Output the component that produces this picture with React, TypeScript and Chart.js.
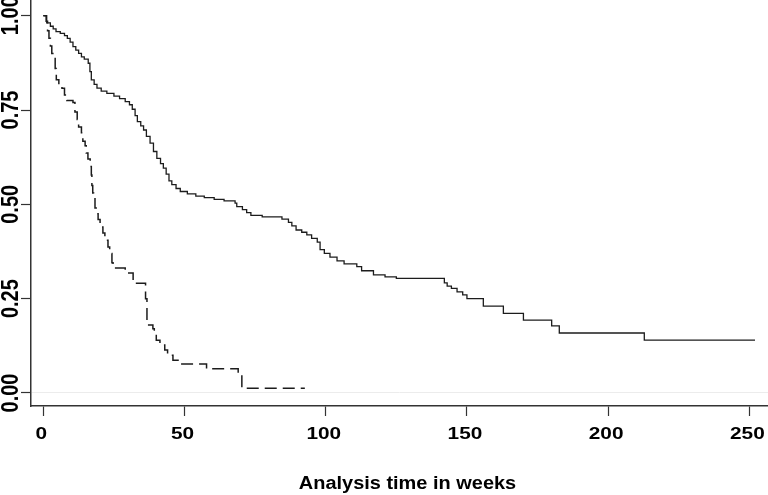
import React, { useEffect, useRef } from "react";
import { Chart, registerables } from "chart.js";

Chart.register(...registerables);

// Group 1 (solid line): event times (weeks) and survival after each event
const solidTimes = [0, 1.2, 2.5, 3.5, 4.5, 6.0, 7.5, 8.5, 9.5, 10.5, 11.5, 12.5, 13.5, 14.5, 15.9, 16.5, 17.0, 18.0, 19.0, 20.5, 22.5, 25.0, 27.0, 29.0, 30.5, 31.5, 32.5, 33.3, 34.5, 35.5, 36.5, 37.8, 39.0, 40.2, 41.5, 42.5, 43.5, 44.5, 45.5, 47.0, 48.5, 51.0, 54.0, 57.0, 60.5, 64.0, 67.9, 68.5, 70.5, 72.0, 73.5, 77.5, 84.5, 86.8, 88.0, 89.5, 91.5, 93.3, 95.0, 97.0, 98.0, 99.5, 101.5, 104.0, 106.5, 111.0, 112.7, 116.9, 121.0, 125.0, 142.0, 143.0, 144.5, 146.5, 148.5, 150.0, 155.8, 162.9, 170.0, 180.0, 182.7, 212.8, 252.0];
const solidSurv = [1.0, 0.981, 0.972, 0.965, 0.958, 0.953, 0.947, 0.94, 0.93, 0.918, 0.909, 0.9, 0.891, 0.885, 0.874, 0.852, 0.83, 0.818, 0.808, 0.8, 0.794, 0.787, 0.78, 0.772, 0.764, 0.752, 0.735, 0.719, 0.708, 0.697, 0.68, 0.662, 0.64, 0.622, 0.608, 0.596, 0.58, 0.562, 0.552, 0.542, 0.534, 0.528, 0.522, 0.518, 0.513, 0.509, 0.503, 0.494, 0.486, 0.478, 0.471, 0.467, 0.461, 0.452, 0.443, 0.432, 0.426, 0.419, 0.41, 0.4, 0.38, 0.37, 0.36, 0.35, 0.342, 0.335, 0.324, 0.313, 0.308, 0.304, 0.292, 0.283, 0.277, 0.268, 0.26, 0.25, 0.23, 0.211, 0.193, 0.178, 0.159, 0.14, 0.14];

// Group 2 (dashed line)
const dashedTimes = [0, 1.0, 1.5, 2.0, 2.5, 3.0, 3.8, 4.2, 4.6, 5.5, 6.6, 7.5, 8.3, 10.5, 11.2, 12.0, 12.5, 13.5, 14.0, 14.8, 15.2, 15.8, 16.6, 17.0, 17.2, 17.5, 17.8, 18.3, 19.0, 19.4, 20.1, 21.1, 21.8, 22.9, 23.5, 24.3, 24.7, 29.0, 31.8, 36.2, 36.7, 38.8, 39.3, 40.0, 41.3, 43.0, 44.0, 45.9, 47.7, 57.8, 69.0, 70.3, 92.6];
const dashedSurv = [1.0, 0.985, 0.96, 0.94, 0.92, 0.9, 0.89, 0.86, 0.83, 0.818, 0.808, 0.79, 0.775, 0.77, 0.745, 0.725, 0.705, 0.69, 0.667, 0.655, 0.636, 0.62, 0.6, 0.578, 0.55, 0.53, 0.52, 0.49, 0.475, 0.46, 0.44, 0.424, 0.405, 0.387, 0.37, 0.345, 0.331, 0.318, 0.291, 0.25, 0.18, 0.17, 0.155, 0.14, 0.127, 0.114, 0.1, 0.087, 0.077, 0.064, 0.048, 0.0125, 0.0125];

const xTickValues = [0, 50, 100, 150, 200, 250];
const yTickValues = [0, 0.25, 0.5, 0.75, 1.0];
const yTickLabels = ["0.00", "0.25", "0.50", "0.75", "1.00"];
const xAxisTitle = "Analysis time in weeks";

const FONT = '"Liberation Sans", Arial, Helvetica, sans-serif';

const textPlugin = {
  id: "stataText",
  afterDraw(chart: any) {
    const ctx = chart.ctx;
    const xs = chart.scales.x;
    const ys = chart.scales.y;
    ctx.save();
    ctx.fillStyle = "#000";
    // x tick labels
    ctx.font = `bold 16px ${FONT}`;
    ctx.textAlign = "center";
    ctx.textBaseline = "alphabetic";
    xTickValues.forEach((v) => {
      const px = xs.getPixelForValue(v) - 2;
      ctx.save();
      ctx.translate(px, 438.5);
      ctx.scale(1.3, 1);
      ctx.fillText(String(v), 0, 0);
      ctx.restore();
    });
    // y tick labels (rotated)
    ctx.font = `bold 20px ${FONT}`;
    yTickValues.forEach((v, i) => {
      const py = ys.getPixelForValue(v);
      ctx.save();
      ctx.translate(18, py);
      ctx.scale(1.18, 1);
      ctx.rotate(-Math.PI / 2);
      ctx.fillText(yTickLabels[i], 0, 0);
      ctx.restore();
    });
    // axis title
    ctx.font = `bold 17.5px ${FONT}`;
    ctx.save();
    ctx.translate(407.5, 488.5);
    ctx.scale(1.14, 1);
    ctx.fillText(xAxisTitle, 0, 0);
    ctx.restore();
    ctx.restore();
  },
};

export default function App() {
  const ref = useRef<HTMLCanvasElement | null>(null);
  useEffect(() => {
    document.body.style.margin = "0";
    const canvas = ref.current;
    if (!canvas) return;
    const chart = new Chart(canvas, {
      type: "line",
      data: {
        datasets: [
          {
            data: solidTimes.map((t, i) => ({ x: t, y: solidSurv[i] })),
            stepped: "before",
            borderColor: "#1c1c1c",
            borderWidth: 1.3,
            pointRadius: 0,
            fill: false,
          },
          {
            data: dashedTimes.map((t, i) => ({ x: t, y: dashedSurv[i] })),
            stepped: "before",
            borderColor: "#1c1c1c",
            borderWidth: 1.5,
            borderDash: [12, 6],
            pointRadius: 0,
            fill: false,
          },
        ],
      },
      options: {
        animation: false,
        responsive: false,
        devicePixelRatio: 1,
        layout: { padding: 0 },
        plugins: { legend: { display: false }, tooltip: { enabled: false } },
        scales: {
          x: {
            type: "linear",
            position: "bottom",
            min: -4.36,
            max: 256.6,
            afterBuildTicks: (s: any) => {
              s.ticks = xTickValues.map((v) => ({ value: v }));
            },
            afterFit: (s: any) => {
              s.height = 89;
            },
            ticks: { display: false },
            grid: {
              drawOnChartArea: false,
              drawTicks: true,
              tickLength: 10,
              tickColor: "#333",
              tickWidth: 1.2,
            },
            border: { display: true, color: "#333", width: 1.5 },
          },
          y: {
            type: "linear",
            position: "left",
            min: -0.0345,
            max: 1.0416,
            afterBuildTicks: (s: any) => {
              s.ticks = yTickValues.map((v) => ({ value: v }));
            },
            afterFit: (s: any) => {
              s.width = 31;
            },
            ticks: { display: false },
            grid: {
              drawOnChartArea: true,
              color: (c: any) => (c.tick && c.tick.value === 0 ? "#ececec" : "rgba(0,0,0,0)"),
              lineWidth: 1,
              drawTicks: true,
              tickLength: 10,
              tickColor: "#333",
              tickWidth: 1.2,
            },
            border: { display: true, color: "#333", width: 1.5 },
          },
        },
      },
      plugins: [textPlugin],
    } as any);
    return () => chart.destroy();
  }, []);
  return (
    <div style={{ position: "fixed", left: 0, top: 0, width: 768, height: 495, background: "#fff" }}>
      <canvas ref={ref} width={768} height={495} style={{ display: "block", width: 768, height: 495 }} />
    </div>
  );
}
